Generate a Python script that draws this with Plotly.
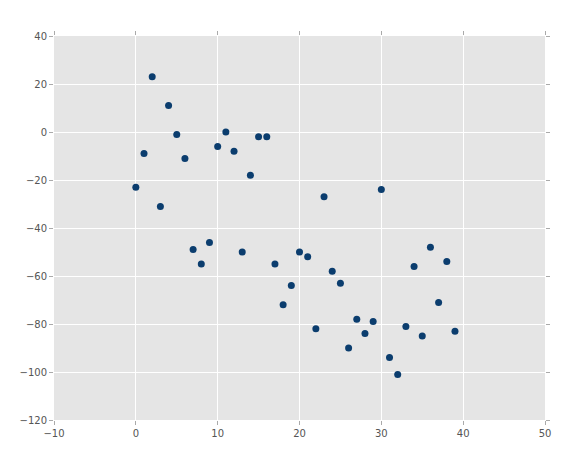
import plotly.graph_objects as go

x_vals = list(range(40))
y_vals = [-23, -9, 23, -31, 11, -1, -11, -49, -55, -46,
          -6, 0, -8, -50, -18, -2, -2, -55, -72, -64,
          -50, -52, -82, -27, -58, -63, -90, -78, -84, -79,
          -24, -94, -101, -81, -56, -85, -48, -71, -54, -83]
x_ticks = [-10, 0, 10, 20, 30, 40, 50]
y_ticks = [-120, -100, -80, -60, -40, -20, 0, 20, 40]

fig = go.Figure()
fig.add_trace(go.Scatter(
    x=x_vals, y=y_vals, mode="markers",
    marker=dict(color="#0b3d6e", size=7, line=dict(width=0)),
    showlegend=False,
))

axis_common = dict(
    showgrid=True, gridcolor="white", gridwidth=1,
    zeroline=False, showline=False,
    ticks="outside", ticklen=4, tickcolor="#aaaaaa", tickwidth=1,
    mirror="ticks",
    tickfont=dict(family="DejaVu Sans", size=10, color="#555555"),
)

fig.update_xaxes(range=[-10, 50], tickvals=x_ticks,
                 ticktext=[str(v).replace("-", "\u2212") for v in x_ticks],
                 **axis_common)
fig.update_yaxes(range=[-120, 40], tickvals=y_ticks,
                 ticktext=[str(v).replace("-", "\u2212") for v in y_ticks],
                 **axis_common)

fig.update_layout(
    width=571, height=451,
    margin=dict(l=42, r=34, t=28, b=39),
    plot_bgcolor="#e5e5e5", paper_bgcolor="white",
)

fig.write_html("out.html")
